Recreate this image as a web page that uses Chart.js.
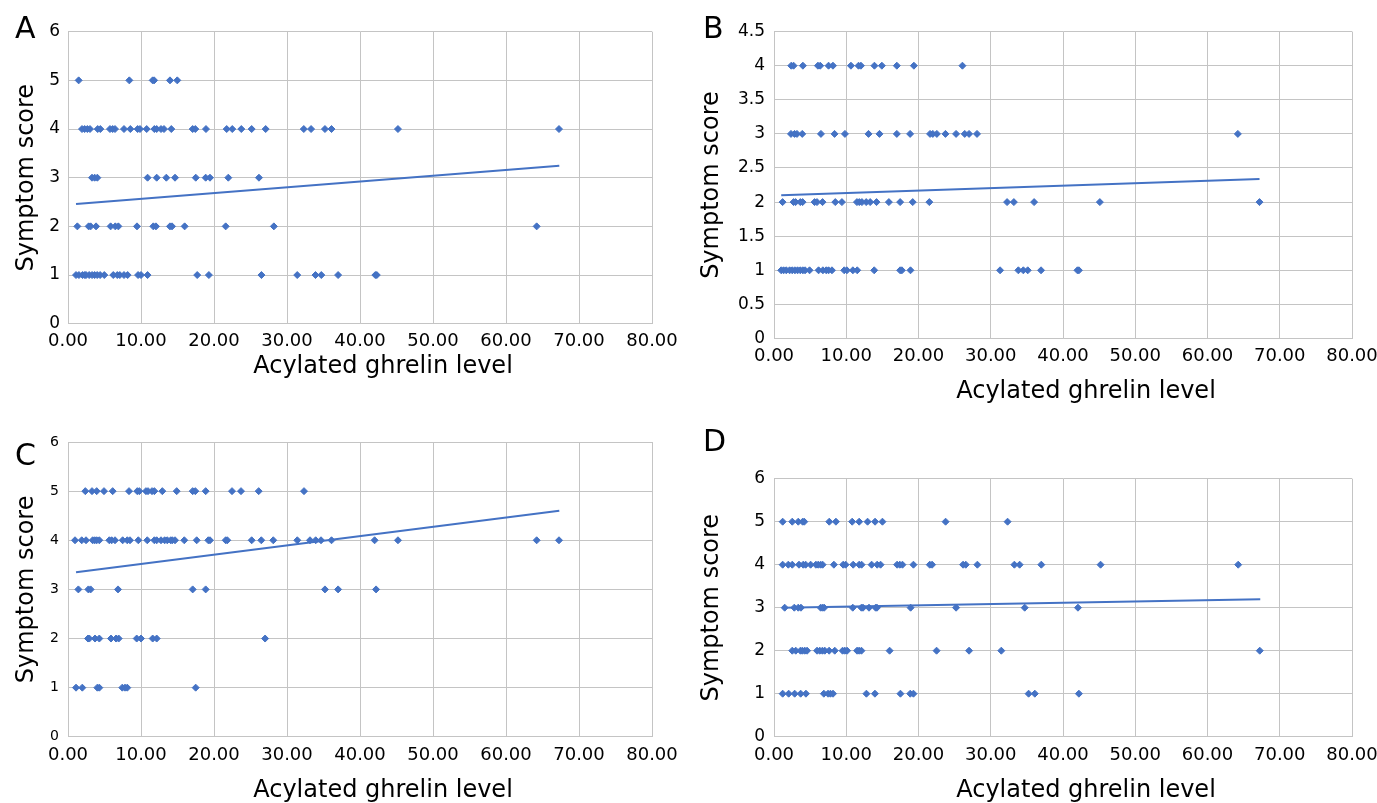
<!DOCTYPE html>
<html>
<head>
<meta charset="utf-8">
<script src="https://cdn.jsdelivr.net/npm/chart.js@4.4.0/dist/chart.umd.min.js"></script>
<style>
  html, body { margin: 0; padding: 0; background: #fff; overflow: hidden; }
  body { width: 1377px; height: 803px; position: relative; }
  .panel { position: absolute; width: 700px; height: 420px; }
  .tag { position: absolute; font: 30px/30px "DejaVu Sans", sans-serif; color: #000; }
</style>
</head>
<body>
<div class="panel" style="left:0;top:0"><canvas id="chartA" width="700" height="420"></canvas></div>
<div class="panel" style="left:690px;top:0"><canvas id="chartB" width="700" height="420"></canvas></div>
<div class="panel" style="left:0;top:400px"><canvas id="chartC" width="700" height="420"></canvas></div>
<div class="panel" style="left:690px;top:400px"><canvas id="chartD" width="700" height="420"></canvas></div>
<div class="tag" style="left:15px;top:13px">A</div>
<div class="tag" style="left:703px;top:13px">B</div>
<div class="tag" style="left:15px;top:440px">C</div>
<div class="tag" style="left:703px;top:426px">D</div>

<script>
// acylated ghrelin values of the patients, grouped by symptom score
const A_score1 = [1.1, 1.5, 2.0, 2.3, 2.47, 2.9, 3.3, 3.65, 4.0, 4.4, 4.97, 6.2, 6.75, 7.1, 7.67, 8.17, 9.6, 10.0, 10.9, 17.7, 19.3, 26.5, 31.4, 33.9, 34.7, 37.0, 42.1, 42.3];
const A_score2 = [1.28, 2.83, 3.1, 3.84, 5.84, 6.48, 6.9, 9.45, 11.69, 12.05, 13.97, 14.25, 15.98, 21.6, 28.2, 64.2];
const A_score3 = [3.29, 3.65, 4.02, 10.9, 12.15, 13.47, 14.66, 17.5, 18.86, 19.45, 21.96, 26.16];
const A_score4 = [1.92, 2.28, 2.65, 3.01, 4.07, 4.43, 5.75, 6.12, 6.44, 7.67, 8.54, 9.54, 9.86, 10.78, 11.83, 12.15, 12.74, 13.15, 14.15, 17.08, 17.44, 18.9, 21.74, 22.5, 23.74, 25.16, 27.08, 32.3, 33.3, 35.2, 36.1, 45.2, 67.26];
const A_score5 = [1.46, 8.4, 11.6, 11.8, 13.97, 14.97];
const A_trendX = [1.1, 67.3];
const A_trendY = [2.46, 3.245];

const B_score1 = [1.0, 1.33, 1.7, 2.16, 2.53, 2.9, 3.26, 3.64, 4.0, 4.3, 4.92, 6.17, 6.77, 7.23, 7.55, 8.02, 9.72, 10.09, 10.92, 11.52, 13.87, 17.46, 17.7, 18.89, 31.29, 33.82, 34.51, 35.12, 36.96, 42.0, 42.2];
const B_score2 = [1.19, 2.71, 2.99, 3.64, 3.96, 5.62, 5.95, 6.72, 8.48, 9.4, 11.48, 11.8, 12.17, 12.76, 13.31, 14.19, 15.9, 17.46, 19.2, 21.5, 32.26, 33.2, 36.0, 45.1, 67.2];
const B_score3 = [2.35, 2.85, 3.18, 3.91, 6.5, 8.38, 9.82, 13.08, 14.6, 17.0, 18.84, 21.6, 21.98, 22.54, 23.73, 25.2, 26.4, 27.0, 28.1, 64.2];
const B_score4 = [2.39, 2.71, 4.0, 6.08, 6.4, 7.55, 8.16, 10.65, 11.7, 12.03, 13.9, 14.93, 17.0, 19.36, 26.08];
const B_trendX = [1.0, 67.2];
const B_trendY = [2.10, 2.34];

const C_score1 = [1.1, 1.96, 4.02, 4.29, 7.44, 7.81, 8.12, 17.49];
const C_score2 = [2.74, 2.92, 3.7, 4.29, 5.89, 6.58, 6.94, 9.41, 10.0, 11.6, 12.15, 27.0];
const C_score3 = [1.42, 2.79, 3.1, 6.85, 17.08, 18.86, 35.2, 37.0, 42.2];
const C_score4 = [0.96, 1.88, 2.47, 3.38, 3.66, 3.93, 4.29, 5.66, 5.98, 6.44, 7.49, 8.12, 8.49, 9.63, 10.86, 11.83, 12.15, 12.74, 13.24, 13.6, 14.07, 14.29, 14.66, 15.93, 17.63, 19.22, 19.45, 21.6, 21.82, 25.16, 26.48, 28.12, 31.41, 33.15, 33.93, 34.66, 36.1, 42.0, 45.2, 64.2, 67.26];
const C_score5 = [2.37, 3.29, 3.93, 4.93, 6.12, 8.36, 9.49, 9.77, 10.68, 10.96, 11.51, 11.83, 12.92, 14.89, 17.08, 17.44, 18.86, 22.47, 23.7, 26.12, 32.33];
const C_trendX = [1.1, 67.3];
const C_trendY = [3.35, 4.60];

const D_score1 = [1.2, 2.03, 2.86, 3.69, 4.42, 6.9, 7.48, 7.81, 8.17, 12.79, 13.97, 17.5, 18.86, 19.3, 35.24, 36.1, 42.2];
const D_score2 = [2.53, 3.01, 3.66, 3.93, 4.26, 4.58, 5.96, 6.33, 6.7, 7.03, 7.63, 8.41, 9.49, 9.8, 10.12, 11.5, 11.78, 12.1, 16.0, 22.5, 27.0, 31.46, 67.23];
const D_score3 = [1.48, 2.81, 3.36, 3.73, 6.46, 6.73, 6.95, 10.9, 12.1, 12.32, 13.15, 14.07, 14.25, 18.91, 25.2, 34.7, 42.07];
const D_score4 = [1.2, 1.98, 2.53, 3.46, 4.05, 4.38, 5.07, 5.8, 6.12, 6.45, 6.73, 8.29, 9.58, 9.91, 10.96, 11.79, 12.12, 13.51, 14.28, 14.75, 17.04, 17.41, 17.78, 19.3, 21.56, 21.88, 26.17, 26.54, 28.15, 33.27, 34.0, 37.0, 45.2, 64.25];
const D_score5 = [1.2, 2.53, 3.36, 3.97, 4.19, 7.65, 8.57, 10.82, 11.79, 12.95, 13.99, 15.01, 23.75, 32.33];
const D_trendX = [1.2, 67.3];
const D_trendY = [3.0, 3.195];

const xTitle = 'Acylated ghrelin level';
const yTitle = 'Symptom score';
const blue = '#4472C4';
const gridColor = '#c4c4c4';
const FONT = '"DejaVu Sans", sans-serif';
const H = 420, W = 700;

function makeChart(id, groups, trendX, trendY, o) {
  const points = [];
  groups.forEach((xs, i) => xs.forEach(x => points.push({ x: x, y: i + 1 })));
  const trend = trendX.map((x, i) => ({ x: x, y: trendY[i] }));

  // the x title sits a bit right of the plot centre, like the Excel original
  const xTitlePlugin = {
    id: 'xTitle',
    afterDraw(chart) {
      const { ctx, chartArea } = chart;
      ctx.save();
      ctx.font = '24px ' + FONT;
      ctx.fillStyle = '#000';
      ctx.textAlign = 'center';
      ctx.textBaseline = 'middle';
      ctx.fillText(xTitle, (chartArea.left + chartArea.right) / 2 + 23, o.xTitleY);
      ctx.restore();
    }
  };

  new Chart(document.getElementById(id), {
    type: 'scatter',
    data: {
      datasets: [
        {
          data: points,
          pointStyle: 'rectRot',
          pointRadius: 3.5,
          borderWidth: 1,
          backgroundColor: blue,
          borderColor: blue
        },
        {
          type: 'line',
          data: trend,
          showLine: true,
          pointRadius: 0,
          borderWidth: 2,
          borderColor: blue,
          fill: false
        }
      ]
    },
    plugins: [xTitlePlugin],
    options: {
      responsive: false,
      animation: false,
      layout: { padding: { left: 0, top: o.top, right: W - o.right, bottom: 0 } },
      plugins: { legend: { display: false }, tooltip: { enabled: false } },
      scales: {
        x: {
          type: 'linear',
          min: 0,
          max: 80,
          grid: { color: gridColor, drawTicks: false },
          border: { color: gridColor },
          ticks: {
            stepSize: 10,
            maxRotation: 0,
            autoSkip: false,
            padding: o.xTickPad,
            color: '#000',
            font: { family: FONT, size: 18 },
            callback: v => v.toFixed(2)
          },
          afterFit: s => { s.height = H - o.bottom; }
        },
        y: {
          min: 0,
          max: o.yMax,
          grid: { color: gridColor, drawTicks: false },
          border: { color: gridColor },
          ticks: {
            stepSize: o.yStep,
            padding: o.yTickPad,
            color: '#000',
            font: { family: FONT, size: o.yTickSize },
            callback: v => String(Math.round(v * 10) / 10)
          },
          title: {
            display: true,
            text: yTitle,
            color: '#000',
            font: { family: FONT, size: 24 },
            padding: { top: o.yTitlePad, bottom: 0 }
          },
          afterFit: s => { s.width = o.left; }
        }
      }
    }
  });
}

makeChart('chartA', [A_score1, A_score2, A_score3, A_score4, A_score5], A_trendX, A_trendY,
  { left: 68, right: 652, top: 31.7, bottom: 323.7, yMax: 6, yStep: 1, yTickSize: 17, yTickPad: 8, yTitlePad: 12.6, xTickPad: 7, xTitleY: 367 });

makeChart('chartB', [B_score1, B_score2, B_score3, B_score4], B_trendX, B_trendY,
  { left: 84, right: 662, top: 31.6, bottom: 338.5, yMax: 4.5, yStep: 0.5, yTickSize: 17, yTickPad: 9, yTitlePad: 7.6, xTickPad: 7.5, xTitleY: 392 });

makeChart('chartC', [C_score1, C_score2, C_score3, C_score4, C_score5], C_trendX, C_trendY,
  { left: 68, right: 652, top: 42, bottom: 336.8, yMax: 6, yStep: 1, yTickSize: 14, yTickPad: 9, yTitlePad: 12.6, xTickPad: 7.6, xTitleY: 391 });

makeChart('chartD', [D_score1, D_score2, D_score3, D_score4, D_score5], D_trendX, D_trendY,
  { left: 84, right: 662, top: 78.7, bottom: 336.7, yMax: 6, yStep: 1, yTickSize: 17, yTickPad: 9, yTitlePad: 7.6, xTickPad: 7.6, xTitleY: 391 });
</script>
</body>
</html>
